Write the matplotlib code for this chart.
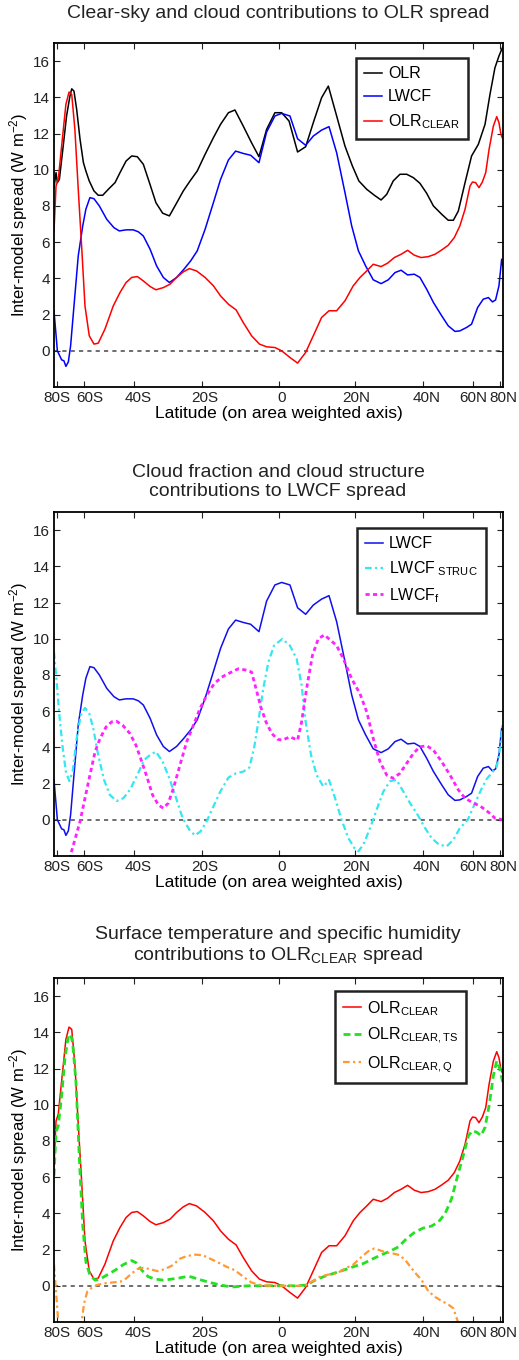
import numpy as np
import matplotlib
matplotlib.use("Agg")
import matplotlib.pyplot as plt
import matplotlib.transforms as mtransforms

plt.rcParams['font.family'] = ['Liberation Sans', 'DejaVu Sans']
plt.rcParams['mathtext.fontset'] = 'custom'
plt.rcParams['mathtext.rm'] = 'Liberation Sans'
plt.rcParams['mathtext.it'] = 'Liberation Sans:italic'

# x positions are sin(latitude), i.e. the area weighted axis
olr_x = [-1.000, -0.991, -0.985, -0.976, -0.959, -0.944, -0.929, -0.921, -0.911, -0.899,
         -0.884, -0.869, -0.858, -0.843, -0.822, -0.803, -0.783, -0.758, -0.728, -0.706,
         -0.679, -0.654, -0.629, -0.602, -0.575, -0.546, -0.516, -0.486, -0.457, -0.424,
         -0.394, -0.362, -0.327, -0.290, -0.258, -0.223, -0.194, -0.157, -0.120, -0.087,
         -0.053, -0.016, 0.014, 0.047, 0.085, 0.121, 0.155, 0.192, 0.222, 0.259,
         0.296, 0.329, 0.358, 0.393, 0.427, 0.457, 0.482, 0.511, 0.541, 0.571,
         0.601, 0.630, 0.660, 0.690, 0.727, 0.756, 0.779, 0.801, 0.831, 0.860,
         0.890, 0.920, 0.942, 0.964, 0.982, 0.999]
olr = [9.0, 9.84, 9.29, 9.47, 11.31, 12.97, 14.07, 14.47, 14.34, 13.33,
       11.68, 10.39, 9.93, 9.38, 8.83, 8.59, 8.59, 8.92, 9.29, 9.84,
       10.48, 10.76, 10.72, 10.3, 9.29, 8.18, 7.6, 7.45, 8.09, 8.83,
       9.38, 9.93, 10.85, 11.77, 12.51, 13.15, 13.3, 12.41, 11.49, 10.72,
       12.23, 13.15, 13.15, 12.69, 10.98, 11.27, 12.6, 13.98, 14.62, 12.97,
       11.31, 10.21, 9.38, 8.92, 8.59, 8.33, 8.64, 9.38, 9.75, 9.75,
       9.56, 9.25, 8.7, 8.0, 7.54, 7.21, 7.21, 7.72, 9.29, 10.76,
       11.4, 12.51, 14.16, 15.63, 16.28, 16.79]

lwcf_x = [-1.000, -0.985, -0.966, -0.956, -0.947, -0.936, -0.926, -0.911, -0.892, -0.872,
          -0.858, -0.840, -0.822, -0.798, -0.765, -0.733, -0.709, -0.679, -0.647, -0.624,
          -0.602, -0.572, -0.543, -0.513, -0.486, -0.454, -0.421, -0.391, -0.362, -0.327,
          -0.290, -0.258, -0.223, -0.191, -0.157, -0.124, -0.087, -0.053, -0.016, 0.014,
          0.051, 0.085, 0.121, 0.155, 0.192, 0.225, 0.259, 0.296, 0.326, 0.356,
          0.388, 0.422, 0.457, 0.489, 0.519, 0.546, 0.575, 0.605, 0.630, 0.660,
          0.690, 0.727, 0.756, 0.786, 0.808, 0.838, 0.860, 0.887, 0.912, 0.935,
          0.953, 0.967, 0.982, 0.994, 0.999]
lwcf = [2.21, 0.0, -0.5, -0.55, -0.86, -0.61, 0.28, 2.48, 5.24, 6.9,
        7.82, 8.46, 8.4, 8.0, 7.26, 6.8, 6.62, 6.68, 6.68, 6.57,
        6.34, 5.61, 4.69, 4.05, 3.77, 4.05, 4.51, 4.97, 5.52, 6.71,
        8.18, 9.47, 10.54, 11.03, 10.9, 10.8, 10.39, 12.08, 12.97, 13.11,
        12.97, 11.71, 11.35, 11.86, 12.19, 12.38, 10.94, 8.74, 6.9, 5.52,
        4.69, 3.92, 3.71, 3.92, 4.32, 4.45, 4.19, 4.23, 4.05, 3.4,
        2.67, 1.93, 1.38, 1.07, 1.1, 1.29, 1.47, 2.39, 2.85, 2.94,
        2.7, 2.81, 3.59, 5.06, 4.69]

clr_x = [-1.000, -0.991, -0.981, -0.966, -0.947, -0.933, -0.921, -0.907, -0.892, -0.877,
         -0.862, -0.843, -0.822, -0.803, -0.773, -0.736, -0.706, -0.679, -0.654, -0.629,
         -0.602, -0.572, -0.546, -0.513, -0.483, -0.454, -0.424, -0.397, -0.365, -0.327,
         -0.290, -0.258, -0.223, -0.189, -0.157, -0.120, -0.085, -0.053, -0.016, 0.014,
         0.051, 0.085, 0.121, 0.155, 0.192, 0.225, 0.259, 0.296, 0.333, 0.363,
         0.393, 0.422, 0.457, 0.486, 0.516, 0.546, 0.575, 0.605, 0.635, 0.667,
         0.697, 0.727, 0.756, 0.783, 0.808, 0.831, 0.853, 0.864, 0.878, 0.893,
         0.908, 0.923, 0.938, 0.957, 0.972, 0.982, 0.991, 0.999]
clr = [6.62, 9.1, 9.47, 11.31, 13.61, 14.29, 14.16, 12.23, 8.92, 5.79,
       2.48, 0.83, 0.37, 0.42, 1.2, 2.48, 3.22, 3.77, 4.05, 4.1,
       3.86, 3.55, 3.37, 3.49, 3.68, 4.05, 4.36, 4.54, 4.41, 4.05,
       3.59, 3.03, 2.57, 2.26, 1.56, 0.83, 0.37, 0.22, 0.18, 0.0,
       -0.37, -0.68, -0.09, 0.83, 1.84, 2.21, 2.21, 2.76, 3.59, 4.05,
       4.41, 4.78, 4.65, 4.84, 5.15, 5.33, 5.55, 5.28, 5.15, 5.2,
       5.33, 5.57, 5.83, 6.25, 6.9, 7.82, 9.1, 9.32, 9.29, 9.01,
       9.32, 9.84, 11.13, 12.41, 12.93, 12.6, 11.95, 11.71]

struc_x = [-1.000, -0.988, -0.976, -0.961, -0.947, -0.932, -0.917, -0.899, -0.881, -0.862,
           -0.843, -0.825, -0.803, -0.777, -0.751, -0.721, -0.691, -0.662, -0.629, -0.599,
           -0.569, -0.546, -0.516, -0.486, -0.457, -0.427, -0.397, -0.372, -0.347, -0.320,
           -0.290, -0.258, -0.223, -0.189, -0.157, -0.130, -0.109, -0.090, -0.068, -0.045,
           -0.020, 0.017, 0.051, 0.081, 0.103, 0.121, 0.145, 0.170, 0.200, 0.225,
           0.252, 0.281, 0.311, 0.338, 0.356, 0.378, 0.408, 0.437, 0.467, 0.497,
           0.526, 0.556, 0.586, 0.620, 0.653, 0.682, 0.715, 0.749, 0.779, 0.808,
           0.843, 0.872, 0.902, 0.927, 0.949, 0.972, 0.987, 0.999]
struc = [9.26, 7.61, 5.77, 3.94, 2.66, 2.14, 2.66, 4.49, 5.77, 6.18,
         5.87, 5.04, 3.57, 2.2, 1.37, 1.04, 1.19, 1.65, 2.47, 3.3,
         3.61, 3.76, 3.21, 2.29, 1.23, 0.09, -0.55, -0.86, -0.64, -0.09,
         0.73, 1.59, 2.33, 2.57, 2.66, 2.88, 3.94, 5.41, 7.24, 8.71,
         9.62, 9.99, 9.62, 8.89, 7.42, 5.41, 3.57, 2.47, 1.83, 2.2,
         1.19, 0.0, -1.01, -1.56, -1.74, -1.37, -0.46, 0.55, 1.56, 2.14,
         2.2, 1.56, 0.92, 0.27, -0.46, -1.01, -1.37, -1.47, -1.1, -0.46,
         0.0, 0.82, 1.65, 2.25, 2.57, 2.93, 3.94, 5.41]

frac_x = [-0.936, -0.926, -0.907, -0.884, -0.862, -0.840, -0.817, -0.795, -0.768, -0.743,
          -0.721, -0.694, -0.662, -0.635, -0.609, -0.584, -0.561, -0.535, -0.513, -0.491,
          -0.468, -0.439, -0.409, -0.379, -0.350, -0.320, -0.287, -0.253, -0.216, -0.179,
          -0.149, -0.120, -0.100, -0.079, -0.056, -0.030, -0.005, 0.017, 0.051, 0.085,
          0.103, 0.125, 0.151, 0.177, 0.204, 0.229, 0.259, 0.289, 0.326, 0.363,
          0.393, 0.422, 0.452, 0.482, 0.511, 0.541, 0.571, 0.601, 0.630, 0.660,
          0.690, 0.727, 0.764, 0.801, 0.831, 0.868, 0.897, 0.935, 0.964, 0.999]
frac = [-2.6, -1.92, -1.1, -0.09, 1.19, 2.47, 3.76, 4.49, 5.13, 5.41,
        5.44, 5.22, 4.77, 4.12, 3.21, 2.29, 1.37, 0.82, 0.64, 0.92,
        1.74, 3.02, 4.31, 5.22, 6.14, 6.87, 7.51, 7.88, 8.12, 8.34,
        8.28, 8.16, 7.24, 6.23, 5.41, 4.77, 4.45, 4.4, 4.58, 4.4,
        5.41, 7.24, 9.07, 9.99, 10.21, 9.95, 9.62, 8.89, 7.79, 6.96,
        5.96, 4.49, 3.21, 2.47, 2.29, 2.57, 3.12, 3.67, 4.03, 4.09,
        3.85, 3.21, 2.47, 1.65, 1.19, 0.92, 0.77, 0.42, 0.09, 0.0]

ts_x = [-1.000, -0.991, -0.981, -0.966, -0.951, -0.936, -0.926, -0.917, -0.902, -0.887,
        -0.872, -0.858, -0.840, -0.817, -0.795, -0.765, -0.728, -0.691, -0.654, -0.635,
        -0.609, -0.580, -0.550, -0.513, -0.476, -0.439, -0.401, -0.376, -0.342, -0.305,
        -0.268, -0.231, -0.201, -0.164, -0.127, 0.022, 0.073, 0.125, 0.163, 0.200,
        0.244, 0.289, 0.333, 0.378, 0.422, 0.460, 0.497, 0.534, 0.571, 0.608,
        0.645, 0.682, 0.712, 0.742, 0.771, 0.798, 0.823, 0.846, 0.864, 0.883,
        0.902, 0.920, 0.938, 0.957, 0.972, 0.984, 0.999]
ts = [6.09, 8.48, 8.84, 10.5, 12.61, 13.8, 13.89, 13.43, 11.23, 7.01,
      3.34, 1.32, 0.59, 0.31, 0.37, 0.59, 0.86, 1.17, 1.39, 1.28,
      0.86, 0.5, 0.37, 0.31, 0.37, 0.44, 0.53, 0.44, 0.31, 0.18,
      0.07, -0.02, -0.06, -0.02, 0.0, 0.0, 0.0, 0.04, 0.31, 0.5,
      0.68, 0.86, 1.05, 1.23, 1.5, 1.72, 1.91, 2.15, 2.61, 2.97,
      3.19, 3.3, 3.52, 3.98, 4.81, 6.09, 7.19, 8.29, 8.57, 8.48,
      8.29, 8.75, 9.94, 11.6, 12.42, 12.06, 11.23]

q_x = [-1.000, -0.991, -0.981, -0.973, -0.884, -0.877, -0.866, -0.852, -0.832, -0.810,
       -0.780, -0.743, -0.706, -0.679, -0.654, -0.629, -0.602, -0.572, -0.540, -0.506,
       -0.471, -0.439, -0.406, -0.372, -0.338, -0.305, -0.268, -0.231, -0.194, -0.157,
       -0.120, -0.082, -0.038, 0.118, 0.148, 0.185, 0.222, 0.259, 0.296, 0.333,
       0.370, 0.400, 0.427, 0.452, 0.482, 0.511, 0.541, 0.571, 0.605, 0.638,
       0.667, 0.697, 0.727, 0.756, 0.779, 0.794, 0.808]
q = [1.17, -0.33, -1.98, -2.6, -2.6, -1.98, -0.97, -0.33, -0.11, 0.04,
     0.13, 0.18, 0.22, 0.4, 0.68, 0.92, 0.99, 0.92, 0.81, 0.92,
     1.14, 1.5, 1.65, 1.72, 1.69, 1.5, 1.28, 1.05, 0.86, 0.5,
     0.18, 0.04, 0.0, 0.0, 0.22, 0.5, 0.62, 0.68, 0.95, 1.17,
     1.6, 1.91, 2.06, 1.96, 1.83, 1.78, 1.69, 1.32, 0.77, 0.31,
     -0.29, -0.61, -0.84, -1.03, -1.25, -1.8, -2.35]

lat_ticks = [-80, -60, -40, -20, 0, 20, 40, 60, 80]
lat_labels = ['80S', '60S', '40S', '20S', '0', '20N', '40N', '60N', '80N']
label_shift = [0, 6, 4, 3, 3, 1, 4, 0, 4]  # px nudges of the tick labels

W, H = 519, 1360
fig = plt.figure(figsize=(W / 100, H / 100), dpi=100)


def make_axes(top):
    # axes box given in pixels from the top of the figure
    ax = fig.add_axes([54 / W, 1 - (top + 344) / H, 449 / W, 344 / H])
    ax.set_xlim(-1, 1)
    ax.set_ylim(-2, 17)
    ax.set_yticks(np.arange(0, 17, 2))
    ax.set_xticks(np.sin(np.radians(lat_ticks)))
    ax.set_xticklabels(lat_labels)
    ax.tick_params(direction='in', top=True, right=True, length=4, width=0.8,
                   labelsize=11, pad=3, colors='#222222')
    ax.tick_params(axis='x', pad=3)
    for lab, dx in zip(ax.get_xticklabels(), label_shift):
        lab.set_transform(lab.get_transform() +
                          mtransforms.ScaledTranslation(dx / 100, 0, fig.dpi_scale_trans))
    for sp in ax.spines.values():
        sp.set_linewidth(1.3)
    ax.axhline(0, color='#555555', lw=1.2, ls=(0, (2.5, 2.5)), zorder=1)
    ax.set_xlabel('Latitude (on area weighted axis)', fontsize=12.5, labelpad=0.5)
    ax.set_ylabel(r'Inter-model spread (W m$^{-2}$)', fontsize=12, labelpad=2)
    return ax


def add_legend(ax, loc):
    leg = ax.legend(loc='upper left', bbox_to_anchor=loc, fontsize=11.5, handlelength=1.1,
                    handletextpad=0.4, borderpad=0.5, labelspacing=0.5,
                    borderaxespad=0, fancybox=False, framealpha=1, edgecolor='#222222')
    leg.get_frame().set_linewidth(1.8)
    return leg


# panel 1: OLR split into clear-sky and cloud parts
ax1 = make_axes(43)
ax1.plot(olr_x, olr, color='black', lw=1.1, label='OLR')
ax1.plot(lwcf_x, lwcf, color='#0000ff', lw=1.1, label='LWCF')
ax1.plot(clr_x, clr, color='#ff0000', lw=1.1, label=r'OLR$_{\rm CLEAR}$')
add_legend(ax1, (0.673, 0.956))
fig.text(278 / W, 1 - 14 / H, 'Clear-sky and cloud contributions to OLR spread',
         ha='center', va='center', fontsize=14, color='#222222')

# panel 2: LWCF split into cloud fraction and structure parts
ax2 = make_axes(512)
ax2.plot(lwcf_x, lwcf, color='#1010ee', lw=1.1, label='LWCF')
ax2.plot(struc_x, struc, color='#33e8f0', lw=1.6, ls=(0, (3, 1.5, 1, 1.5)),
         label=r'LWCF$_{\ \rm STRUC}$')
ax2.plot(frac_x, frac, color='#ff22ff', lw=2.0, ls=(0, (1.5, 1.2)), label=r'LWCF$_{\rm f}$')
add_legend(ax2, (0.675, 0.953))
fig.text(278 / W, 1 - 482 / H,
         'Cloud fraction and cloud structure\ncontributions to LWCF spread',
         ha='center', va='center', fontsize=14, linespacing=1.1, color='#222222')

# panel 3: OLR_CLEAR split into surface temperature and humidity parts
ax3 = make_axes(978)
ax3.plot(clr_x, clr, color='#ff0000', lw=1.1, label=r'OLR$_{\rm CLEAR}$')
ax3.plot(ts_x, ts, color='#22e022', lw=2.0, ls=(0, (2.5, 1.5)),
         label=r'OLR$_{\rm CLEAR,TS}$')
ax3.plot(q_x, q, color='#ff9a33', lw=1.6, ls=(0, (3, 1.5, 1, 1.5)),
         label=r'OLR$_{\rm CLEAR,Q}$')
add_legend(ax3, (0.626, 0.962))
fig.text(278 / W, 1 - 946 / H,
         'Surface temperature and specific humidity\n' r'contributions to OLR$_{\rm CLEAR}$ spread',
         ha='center', va='center', fontsize=14, linespacing=1.15, color='#222222')

fig.savefig('out.png', dpi=100)
